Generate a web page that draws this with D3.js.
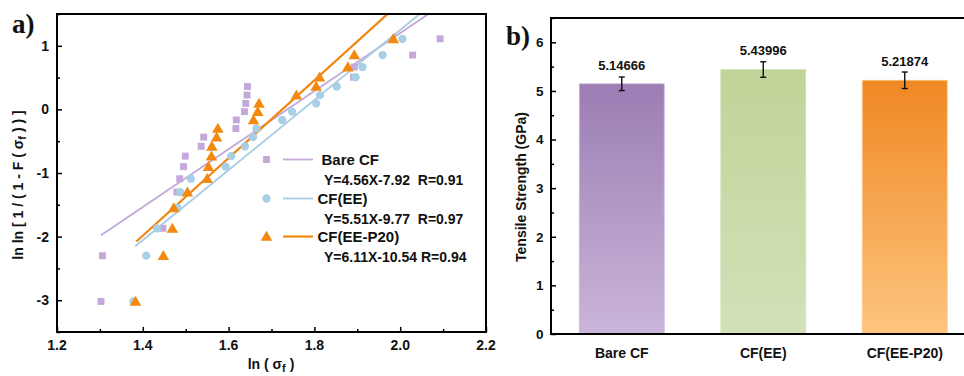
<!DOCTYPE html>
<html>
<head>
<meta charset="utf-8">
<script src="https://cdn.jsdelivr.net/npm/d3@7/dist/d3.min.js"></script>
<style>
  body { margin: 0; background: #fff; }
  svg { display: block; }
  text { font-family: "Liberation Sans", Arial, sans-serif; font-weight: bold; fill: #111; }
</style>
</head>
<body>
<div id="chart"></div>
<script>
// Weibull plot levels: ln ln[1/(1-F)] for the 20 ranked fibres
const yLevels = [-3.02, -2.30, -1.87, -1.55, -1.30, -1.09, -0.90, -0.735, -0.58, -0.436,
  -0.30, -0.166, -0.035, 0.094, 0.225, 0.36, 0.506, 0.666, 0.855, 1.11];
const bareX = [1.3025, 1.306, 1.447, 1.479, 1.4795, 1.486, 1.495, 1.499, 1.536, 1.542,
  1.617, 1.618, 1.637, 1.640, 1.643, 1.644, 1.891, 1.893, 2.029, 2.093];
const eeX = [1.378, 1.408, 1.433, 1.481, 1.487, 1.512, 1.593, 1.606, 1.638, 1.657,
  1.665, 1.725, 1.748, 1.804, 1.813, 1.852, 1.896, 1.912, 1.959, 2.005];
const p20X = [1.383, 1.448, 1.469, 1.472, 1.504, 1.550, 1.553, 1.560, 1.561, 1.572,
  1.575, 1.658, 1.668, 1.671, 1.758, 1.804, 1.812, 1.878, 1.893, 1.984];

const seriesNames = ['Bare CF', 'CF(EE)', 'CF(EE-P20)'];
const fitSlope = [4.56, 5.51, 6.11];
const fitIntercept = [-7.92, -9.77, -10.54];
const fitFrom = [1.3025, 1.3825, 1.385];
const fitTo = [2.10, 2.10, 2.00];
const fitLabels = ['Y=4.56X-7.92  R=0.91', 'Y=5.51X-9.77  R=0.97', 'Y=6.11X-10.54 R=0.94'];

const xTicksA = [1.2, 1.4, 1.6, 1.8, 2.0, 2.2];
const yTicksA = [-3, -2, -1, 0, 1];

// bar panel
const barCats = ['Bare CF', 'CF(EE)', 'CF(EE-P20)'];
const barValues = [5.14666, 5.43996, 5.21874];
const barErr = [0.14, 0.16, 0.17];
const yTicksB = [0, 1, 2, 3, 4, 5, 6];

const markerColors = ['#c3a9da', '#a9cfe6', '#f38a0f'];
const lineColors = ['#c4a8da', '#a6cbe3', '#f3850f'];
const barTop = ['#9c7db4', '#c1d398', '#ef8823'];
const barBottom = ['#cab5d9', '#d3e1b8', '#fec57f'];

const width = 964, height = 376;
const svg = d3.select('#chart').append('svg').attr('width', width).attr('height', height);
const defs = svg.append('defs');

// ---------- panel a ----------
const a = { left: 57, right: 486, top: 14, bottom: 332 };
const xA = d3.scaleLinear().domain([1.2, 2.2]).range([a.left, a.right]);
const yA = d3.scaleLinear().domain([-3.5, 1.5]).range([a.bottom, a.top]);

defs.append('clipPath').attr('id', 'clipA')
  .append('rect').attr('x', a.left).attr('y', a.top)
  .attr('width', a.right - a.left).attr('height', a.bottom - a.top);

const gA = svg.append('g');

// fit lines
const fits = seriesNames.map((n, i) => [fitFrom[i], fitTo[i]].map(x => [x, fitSlope[i] * x + fitIntercept[i]]));
gA.append('g').attr('clip-path', 'url(#clipA)')
  .selectAll('path').data(fits).join('path')
  .attr('d', d3.line().x(d => xA(d[0])).y(d => yA(d[1])))
  .attr('fill', 'none')
  .attr('stroke', (d, i) => lineColors[i])
  .attr('stroke-width', (d, i) => i === 2 ? 2.2 : 1.8);

// markers
const sqSym = d3.symbol().type(d3.symbolSquare).size(48);
const ciSym = d3.symbol().type(d3.symbolCircle).size(54);
const trSym = d3.symbol().type(d3.symbolTriangle).size(58);

const pts = xs => xs.map((x, i) => [x, yLevels[i]]);
gA.append('g').selectAll('path').data(pts(bareX)).join('path')
  .attr('d', sqSym).attr('fill', markerColors[0])
  .attr('transform', d => `translate(${xA(d[0])},${yA(d[1])})`);
gA.append('g').selectAll('path').data(pts(eeX)).join('path')
  .attr('d', ciSym).attr('fill', markerColors[1])
  .attr('transform', d => `translate(${xA(d[0])},${yA(d[1])})`);
gA.append('g').selectAll('path').data(pts(p20X)).join('path')
  .attr('d', trSym).attr('fill', markerColors[2])
  .attr('transform', d => `translate(${xA(d[0])},${yA(d[1]) + 1})`);

// axes (ticks inward)
const xAxisA = gA.append('g').attr('transform', `translate(0,${a.bottom})`)
  .call(d3.axisTop(xA).tickValues(d3.range(1.2, 2.21, 0.1)).tickSize(5).tickFormat(''));
xAxisA.selectAll('.tick line').attr('y2', (d, i) => i % 2 === 0 ? -5 : -3);
const yAxisA = gA.append('g').attr('transform', `translate(${a.left},0)`)
  .call(d3.axisRight(yA).tickValues(d3.range(-3.5, 1.51, 0.5)).tickSize(5).tickFormat(''));
yAxisA.selectAll('.tick line').attr('x2', d => Math.abs(d % 1) < 1e-6 ? 5 : 3);
[xAxisA, yAxisA].forEach(g => {
  g.select('.domain').remove();
  g.selectAll('.tick line').attr('stroke', '#000').attr('stroke-width', 1.5);
});

gA.append('rect').attr('x', a.left).attr('y', a.top)
  .attr('width', a.right - a.left).attr('height', a.bottom - a.top)
  .attr('fill', 'none').attr('stroke', '#000').attr('stroke-width', 2);

gA.selectAll('.xlab').data(xTicksA).join('text').attr('class', 'xlab')
  .attr('x', d => xA(d)).attr('y', 350).attr('text-anchor', 'middle')
  .attr('font-size', 14).text(d => d.toFixed(1));
gA.selectAll('.ylab').data(yTicksA).join('text').attr('class', 'ylab')
  .attr('x', 49).attr('y', d => yA(d)).attr('dy', '0.36em').attr('text-anchor', 'end')
  .attr('font-size', 14).text(d => d);

// axis titles
const xt = gA.append('text').attr('x', 271).attr('y', 369).attr('text-anchor', 'middle').attr('font-size', 14);
xt.append('tspan').text('ln ( σ');
xt.append('tspan').attr('font-size', 11).attr('dy', 3).text('f');
xt.append('tspan').attr('dy', -3).text(' )');

const yt = gA.append('text').attr('transform', 'translate(23,185) rotate(-90)')
  .attr('text-anchor', 'middle').attr('font-size', 14);
yt.append('tspan').text('ln ln [ 1 / ( 1 - F ( σ');
yt.append('tspan').attr('font-size', 11).attr('dy', 3).text('f');
yt.append('tspan').attr('dy', -3).text(' ) ) ]');

gA.append('text').attr('x', 12).attr('y', 33)
  .style('font-family', '"Liberation Serif", "Times New Roman", serif')
  .attr('font-size', 27).text('a)');

// legend
const legY = [159.5, 198.5, 236.5];
const legSyms = [sqSym, ciSym, trSym];
const leg = gA.append('g');
legY.forEach((y, i) => {
  leg.append('path').attr('d', legSyms[i]).attr('fill', markerColors[i])
    .attr('transform', `translate(266.5,${y + (i === 2 ? 1 : 0)})`);
  leg.append('line').attr('x1', 283).attr('x2', 313).attr('y1', y).attr('y2', y)
    .attr('stroke', lineColors[i]).attr('stroke-width', i === 2 ? 2.2 : 1.8);
  leg.append('text').attr('x', i === 0 ? 321.5 : 317.5).attr('y', y + 5.5)
    .attr('font-size', 15).text(seriesNames[i]);
  leg.append('text').attr('x', 324).attr('y', y + 25)
    .attr('font-size', 14).style('white-space', 'pre').text(fitLabels[i]);
});

// ---------- panel b ----------
const b = { left: 551, top: 18, bottom: 334 };
const xB = d3.scaleBand().domain(barCats).range([b.left, b.left + 424.5])
  .paddingInner(0.4).paddingOuter(0.2);
const yB = d3.scaleLinear().domain([0, 6.5]).range([b.bottom, b.top]);
const gB = svg.append('g');

barCats.forEach((c, i) => {
  const gr = defs.append('linearGradient').attr('id', 'grad' + i)
    .attr('x1', 0).attr('x2', 0).attr('y1', 0).attr('y2', 1);
  gr.append('stop').attr('offset', '0%').attr('stop-color', barTop[i]);
  gr.append('stop').attr('offset', '100%').attr('stop-color', barBottom[i]);
});

gB.selectAll('.bar').data(barValues).join('rect').attr('class', 'bar')
  .attr('x', (d, i) => xB(barCats[i])).attr('width', xB.bandwidth())
  .attr('y', d => yB(d)).attr('height', d => yB(0) - yB(d))
  .attr('fill', (d, i) => `url(#grad${i})`)
  .attr('stroke', (d, i) => barBottom[i]).attr('stroke-width', 0.8);

// error bars
const eb = gB.selectAll('.err').data(barValues).join('g').attr('class', 'err')
  .attr('transform', (d, i) => `translate(${xB(barCats[i]) + xB.bandwidth() / 2},0)`);
eb.append('line').attr('y1', (d, i) => yB(d - barErr[i])).attr('y2', (d, i) => yB(d + barErr[i]));
eb.append('line').attr('x1', -3).attr('x2', 3).attr('y1', (d, i) => yB(d - barErr[i])).attr('y2', (d, i) => yB(d - barErr[i]));
eb.append('line').attr('x1', -3).attr('x2', 3).attr('y1', (d, i) => yB(d + barErr[i])).attr('y2', (d, i) => yB(d + barErr[i]));
eb.selectAll('line').attr('stroke', '#111').attr('stroke-width', 1.4);
eb.append('text').attr('y', (d, i) => yB(d + barErr[i]) - 6.5)
  .attr('text-anchor', 'middle').attr('font-size', 13).text(d => d.toFixed(5));

const yAxisB = gB.append('g').attr('transform', `translate(${b.left},0)`)
  .call(d3.axisRight(yB).tickValues(d3.range(0, 6.51, 0.5)).tickSize(5).tickFormat(''));
yAxisB.select('.domain').remove();
yAxisB.selectAll('.tick line').attr('stroke', '#000').attr('stroke-width', 1.5)
  .attr('x2', d => d % 1 === 0 ? 5 : 3);

gB.append('rect').attr('x', b.left).attr('y', b.top)
  .attr('width', 500).attr('height', b.bottom - b.top)
  .attr('fill', 'none').attr('stroke', '#000').attr('stroke-width', 2);

gB.selectAll('.ylabb').data(yTicksB).join('text').attr('class', 'ylabb')
  .attr('x', 543.5).attr('y', d => yB(d)).attr('dy', '0.36em').attr('text-anchor', 'end')
  .attr('font-size', 13.5).text(d => d);
gB.selectAll('.xlabb').data(barCats).join('text').attr('class', 'xlabb')
  .attr('x', d => xB(d) + xB.bandwidth() / 2).attr('y', 358).attr('text-anchor', 'middle')
  .attr('font-size', 14).text(d => d);

gB.append('text').attr('transform', 'translate(526,187) rotate(-90)')
  .attr('text-anchor', 'middle').attr('font-size', 14).text('Tensile Strength (GPa)');

gB.append('text').attr('x', 506).attr('y', 45)
  .style('font-family', '"Liberation Serif", "Times New Roman", serif')
  .attr('font-size', 27).text('b)');
</script>
</body>
</html>
